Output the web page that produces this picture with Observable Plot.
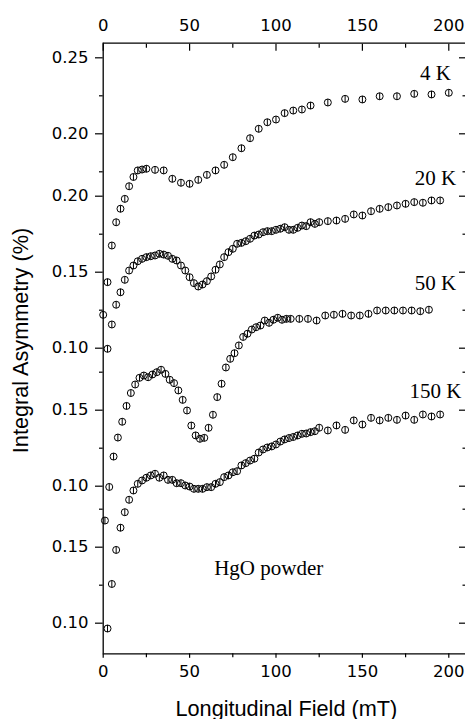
<!DOCTYPE html>
<html><head><meta charset="utf-8">
<script src="https://cdn.jsdelivr.net/npm/d3@7"></script>
<script src="https://cdn.jsdelivr.net/npm/@observablehq/plot@0.6"></script>
<style>
html,body{margin:0;padding:0;background:#fff;}
</style>
</head><body><div id="chart"></div>
<script>
// ---- data ----
const temperatures = ["4 K", "20 K", "50 K", "150 K"];

const field4K = [0,2.5,5,7.5,10,12.5,15,17.5,20,22.5,25,30,35,40,45,50,55,60,65,70,75,80,85,90,95,100,105,110,115,120,130,140,150,160,170,180,190,200];
const asym4K = [0.0809,0.1024,0.1265,0.1418,0.1507,0.1572,0.1655,0.1716,0.1759,0.1765,0.1770,0.1763,0.1759,0.1704,0.1678,0.1671,0.1697,0.1730,0.1759,0.1796,0.1846,0.1905,0.1971,0.2033,0.2076,0.2094,0.2136,0.2153,0.2160,0.2186,0.2206,0.2230,0.2226,0.2247,0.2247,0.2263,0.2259,0.2270];

const field20K = [2.5,5,7.5,10,12.5,15,17.5,20,22.5,25,27.5,30,32.5,35,37.5,40,42.5,45,47.5,50,52.5,55,57.5,60,62.5,65,67.5,70,72.5,75,77.5,80,82.5,85,87.5,90,92.5,95,97.5,100,102.5,105,107.5,110,112.5,115,117.5,120,122.5,125,130,135,140,145,150,155,160,165,170,175,180,185,190,195];
const asym20K = [0.0996,0.1156,0.1286,0.1368,0.1450,0.1511,0.1544,0.1572,0.1588,0.1599,0.1605,0.1610,0.1621,0.1616,0.1608,0.1588,0.1577,0.1544,0.1511,0.1467,0.1428,0.1406,0.1419,0.1441,0.1472,0.1516,0.1551,0.1599,0.1632,0.1654,0.1687,0.1693,0.1704,0.1720,0.1741,0.1748,0.1763,0.1770,0.1770,0.1779,0.1786,0.1796,0.1779,0.1779,0.1792,0.1807,0.1803,0.1829,0.1818,0.1829,0.1836,0.1840,0.1851,0.1880,0.1873,0.1901,0.1917,0.1928,0.1939,0.1950,0.1961,0.1957,0.1972,0.1972];

const field50K = [1,3.5,6,8.5,11,13.5,16,18.5,21,23.5,26,28.5,31,33.5,36,38.5,41,43.5,46,48.5,51,53.5,56,58.5,61,63.5,66,68.5,71,73.5,76,78.5,81,83.5,86,88.5,91,93.5,96,98.5,101,103.5,106,108.5,113.5,118.5,123.5,128.5,133.5,138.5,143.5,148.5,153.5,158.5,163.5,168.5,173.5,178.5,183.5,188.5];
const asym50K = [0.0774,0.0995,0.1195,0.1320,0.1424,0.1528,0.1613,0.1669,0.1713,0.1728,0.1717,0.1735,0.1750,0.1766,0.1739,0.1700,0.1678,0.1630,0.1568,0.1498,0.1399,0.1334,0.1312,0.1318,0.1384,0.1470,0.1586,0.1674,0.1781,0.1838,0.1875,0.1926,0.1982,0.2003,0.2031,0.2046,0.2057,0.2090,0.2075,0.2095,0.2108,0.2095,0.2101,0.2101,0.2101,0.2101,0.2090,0.2123,0.2128,0.2134,0.2123,0.2123,0.2134,0.2156,0.2156,0.2156,0.2156,0.2156,0.2151,0.2161];

const field150K = [2.5,5,7.5,10,12.5,15,17.5,20,22.5,25,27.5,30,32.5,35,37.5,40,42.5,45,47.5,50,52.5,55,57.5,60,62.5,65,67.5,70,72.5,75,77.5,80,82.5,85,87.5,90,92.5,95,97.5,100,102.5,105,107.5,110,112.5,115,117.5,120,122.5,125,130,135,140,145,150,155,160,165,170,175,180,185,190,195];
const asym150K = [0.0965,0.1258,0.1482,0.1628,0.1730,0.1812,0.1873,0.1917,0.1939,0.1957,0.1972,0.1983,0.1957,0.1972,0.1943,0.1943,0.1921,0.1921,0.1906,0.1899,0.1884,0.1884,0.1884,0.1895,0.1895,0.1917,0.1928,0.1961,0.1972,0.1993,0.2000,0.2038,0.2053,0.2070,0.2082,0.2123,0.2143,0.2156,0.2163,0.2176,0.2195,0.2209,0.2218,0.2225,0.2235,0.2246,0.2248,0.2257,0.2263,0.2286,0.2268,0.2301,0.2272,0.2334,0.2307,0.2351,0.2334,0.2351,0.2338,0.2366,0.2338,0.2373,0.2360,0.2373];

// stacked y-axis tick labels (each panel has its own labels)
const tickTemps   = ["4 K","4 K","20 K","20 K","20 K","50 K","50 K","150 K","150 K"];
const tickValues  = [0.25,0.20,0.20,0.15,0.10,0.15,0.10,0.15,0.10];
const minorTemps  = ["4 K","4 K","20 K","20 K","50 K","50 K","150 K","150 K"];
const minorValues = [0.225,0.175,0.175,0.125,0.175,0.125,0.175,0.125];
const xMajor = [0,50,100,150,200];
const xMinor = [25,75,125,175];

// ---- layout: vertical stacking offset of each panel ----
const offsets = {"4 K": 0, "20 K": -0.04105, "50 K": -0.13184, "150 K": -0.22197};
const yLow = -0.14211, yHigh = 0.25961;

const seriesFields = [field4K, field20K, field50K, field150K];
const seriesAsym = [asym4K, asym20K, asym50K, asym150K];
const points = temperatures.flatMap((t, k) =>
  seriesFields[k].map((f, i) => ({temp: t, field: f, asym: seriesAsym[k][i]})));
const stacked = d => d.asym + offsets[d.temp];

const majorPos = tickValues.map((v, i) => v + offsets[tickTemps[i]]);
const minorPos = minorValues.map((v, i) => v + offsets[minorTemps[i]]);
const labelFor = new Map(majorPos.map((p, i) => [p, tickValues[i].toFixed(2)]));

// annotations
const notes = [
  {temp: "4 K", field: 192.3, asym: 0.2357, text: "4 K", anchor: "end"},
  {temp: "20 K", field: 192.3, asym: 0.2075, text: "20 K", anchor: "end"},
  {temp: "50 K", field: 192.3, asym: 0.2288, text: "50 K", anchor: "end"},
  {temp: "150 K", field: 192.3, asym: 0.2483, text: "150 K", anchor: "end"},
  {temp: "150 K", field: 95.8, asym: 0.1318, text: "HgO powder", anchor: "start"}
];

// circle with vertical error bar
const circleBar = {
  draw(context, size) {
    const r = Math.sqrt(size / Math.PI);
    context.moveTo(r, 0);
    context.arc(0, 0, r, 0, 2 * Math.PI);
    context.moveTo(0, -r);
    context.lineTo(0, r);
  }
};

const chart = Plot.plot({
  width: 465,
  height: 719,
  marginLeft: 102.7,
  marginRight: 0,
  marginTop: 42.7,
  marginBottom: 65.7,
  x: {domain: [0, 209.67], label: null},
  y: {domain: [yLow, yHigh], label: null},
  style: {fontFamily: "DejaVu Sans", fontSize: "16.5px", color: "black", background: "white"},
  marks: [
    // frame lines
    Plot.ruleX([0], {strokeWidth: 1.3}),
    Plot.ruleY([yHigh], {strokeWidth: 1.3}),
    Plot.ruleY([yLow], {strokeWidth: 1.3}),
    // left axis
    Plot.axisY(majorPos, {anchor: "left", tickSize: 7.7, tickPadding: 7, tickFormat: d => labelFor.get(d), strokeWidth: 1.2, label: null}),
    Plot.axisY(minorPos, {anchor: "left", tickSize: 3.7, fill: "none", strokeWidth: 1.2, label: null}),
    // right inward ticks
    Plot.axisY(majorPos, {anchor: "right", tickSize: 7, dx: -7, fill: "none", strokeWidth: 1.2, label: null}),
    Plot.axisY(minorPos, {anchor: "right", tickSize: 3.5, dx: -3.5, fill: "none", strokeWidth: 1.2, label: null}),
    // top axis
    Plot.axisX(xMajor, {anchor: "top", tickSize: 7, dy: 7, fill: "none", strokeWidth: 1.2, label: null}),
    Plot.axisX(xMinor, {anchor: "top", tickSize: 4, dy: 4, fill: "none", strokeWidth: 1.2, label: null}),
    Plot.axisX(xMajor, {anchor: "top", tickSize: 0, tickPadding: 12.7, label: null}),
    // bottom axis
    Plot.axisX(xMajor, {anchor: "bottom", tickSize: 4.5, tickPadding: 7, strokeWidth: 1.2, label: null}),
    Plot.axisX(xMinor, {anchor: "bottom", tickSize: 4, fill: "none", strokeWidth: 1.2, label: null}),
    // data
    Plot.dot(points, {x: "field", y: stacked, r: 3.5, symbol: circleBar, stroke: "black", fill: "none", strokeWidth: 1}),
    // annotations
    Plot.text(notes, {x: "field", y: stacked, text: "text", textAnchor: d => d.anchor, lineAnchor: "bottom",
      fontFamily: "Liberation Serif", fontSize: 21}),
    // axis titles
    Plot.text(["Longitudinal Field (mT)"], {frameAnchor: "bottom", dx: 2, dy: 61.7, textAnchor: "middle", lineAnchor: "bottom",
      fontFamily: "Liberation Sans", fontSize: 21.7}),
    Plot.text(["Integral Asymmetry (%)"], {frameAnchor: "left", dx: -82.5, dy: -8, rotate: -90, textAnchor: "middle", lineAnchor: "middle",
      fontFamily: "Liberation Sans", fontSize: 21.7})
  ]
});
document.getElementById("chart").appendChild(chart);
</script>
</body></html>
